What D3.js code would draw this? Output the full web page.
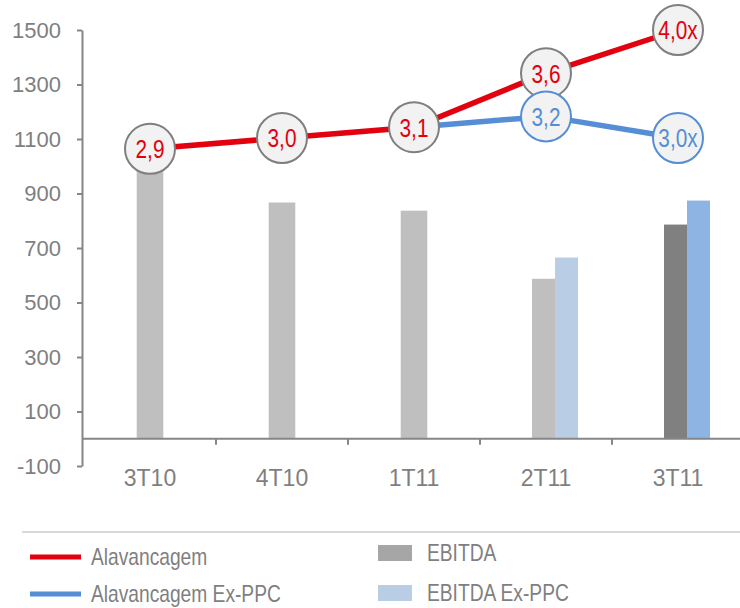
<!DOCTYPE html>
<html>
<head>
<meta charset="utf-8">
<script src="https://cdn.jsdelivr.net/npm/d3@7"></script>
<style>
  body { margin: 0; background: #fff; }
  svg { display: block; }
  text { font-family: "Liberation Sans", Arial, sans-serif; }
</style>
</head>
<body>
<div id="canvas"></div>
<script>
// data
const categories = ['3T10', '4T10', '1T11', '2T11', '3T11']
const ebitda = [1010, 867, 837, 587, 786]
const ebitdaExPPC = [null, null, null, 665, 874]
const alavancagem = [2.9, 3.0, 3.1, 3.6, 4.0]
const alavancagemExPPC = [null, null, 3.1, 3.2, 3.0]
const yTicks = [-100, 100, 300, 500, 700, 900, 1100, 1300, 1500]
const ebitdaColors = ['#BFBFBF', '#BFBFBF', '#BFBFBF', '#BFBFBF', '#808080']
const exPPCColors = [null, null, null, '#B9CDE5', '#8EB4E3']
const legendLines = ['Alavancagem', 'Alavancagem Ex-PPC']
const legendBars = ['EBITDA', 'EBITDA Ex-PPC']

const width = 740
const height = 608
const red = '#E3000F'
const blue = '#558ED5'
const axisGrey = '#868686'
const textGrey = '#7F7F7F'
const narrow = 0.8 // no narrow font installed, so squeeze the regular one

let svg = d3.select('#canvas').append('svg')
  .attr('width', width)
  .attr('height', height)

const x = d3.scaleBand().domain(categories).range([84, 744])
const y = d3.scaleLinear().domain([-100, 1500]).range([466, 30])
// secondary (hidden) scale for the leverage lines
const yR = d3.scaleLinear().domain([0, 4]).range([462, 30])
const xSub = d3.scaleBand().domain(['ebitda', 'ex']).range([-14, 32])
const cx = c => x(c) + x.bandwidth() / 2

// bars
let bars = []
categories.forEach((c, i) => {
  if (ebitdaExPPC[i] == null) {
    bars.push({ x: cx(c) - 13.3, w: 26.6, v: ebitda[i], color: ebitdaColors[i] })
  } else {
    bars.push({ x: cx(c) + xSub('ebitda'), w: xSub.bandwidth(), v: ebitda[i], color: ebitdaColors[i] })
    bars.push({ x: cx(c) + xSub('ex'), w: xSub.bandwidth(), v: ebitdaExPPC[i], color: exPPCColors[i] })
  }
})
svg.append('g').selectAll('rect').data(bars).join('rect')
  .attr('x', d => d.x)
  .attr('width', d => d.w)
  .attr('y', d => y(d.v))
  .attr('height', d => y(0) - y(d.v))
  .attr('fill', d => d.color)

// y axis
const yAxis = svg.append('g')
  .attr('transform', 'translate(82,0)')
  .call(d3.axisLeft(y).tickValues(yTicks).tickFormat(d => String(d))
    .tickSize(5).tickSizeOuter(0).tickPadding(16))
yAxis.select('.domain').attr('stroke', axisGrey).attr('stroke-width', 2)
yAxis.selectAll('.tick line').attr('stroke', axisGrey).attr('stroke-width', 2)
yAxis.selectAll('.tick text')
  .attr('fill', textGrey)
  .style('font-size', '22px')
  .style('font-family', '"Liberation Sans", Arial, sans-serif')

// x axis on the zero line, ticks between categories
svg.append('line')
  .attr('x1', 82).attr('x2', width)
  .attr('y1', y(0)).attr('y2', y(0))
  .attr('stroke', axisGrey).attr('stroke-width', 2)
svg.append('g').selectAll('line').data(categories.slice(1)).join('line')
  .attr('x1', d => x(d)).attr('x2', d => x(d))
  .attr('y1', y(0)).attr('y2', y(0) + 6)
  .attr('stroke', axisGrey).attr('stroke-width', 2)
svg.append('g').selectAll('text').data(categories).join('text')
  .attr('x', d => cx(d))
  .attr('y', 486)
  .attr('text-anchor', 'middle')
  .attr('fill', textGrey)
  .style('font-size', '23px')
  .text(d => d)

// leverage lines
const line = d3.line()
  .defined(d => d.v != null)
  .x(d => cx(d.c))
  .y(d => yR(d.v))
const redPts = categories.map((c, i) => ({ c: c, v: alavancagem[i], last: i === categories.length - 1 }))
const bluePts = categories.map((c, i) => ({ c: c, v: alavancagemExPPC[i], last: i === categories.length - 1 }))

svg.append('path').datum(redPts)
  .attr('d', line).attr('fill', 'none')
  .attr('stroke', red).attr('stroke-width', 5.5)
svg.append('path').datum(bluePts)
  .attr('d', line).attr('fill', 'none')
  .attr('stroke', blue).attr('stroke-width', 5.5)

const fmt = d => d3.format('.1f')(d.v).replace('.', ',') + (d.last ? 'x' : '')

let drawBubbles = function (pts, stroke, color) {
  const g = svg.append('g').selectAll('g').data(pts).join('g')
    .attr('transform', d => `translate(${cx(d.c)},${yR(d.v)})`)
  g.append('circle')
    .attr('r', 25)
    .attr('fill', '#F2F2F2')
    .attr('stroke', stroke)
    .attr('stroke-width', 2)
  g.append('text')
    .attr('text-anchor', 'middle')
    .attr('dy', '0.36em')
    .attr('transform', `scale(${narrow},1)`)
    .attr('fill', color)
    .style('font-size', '26px')
    .text(fmt)
}
drawBubbles(redPts, '#7F7F7F', red)
// the 1T11 ex-PPC point sits under the red bubble, so no bubble of its own
drawBubbles(bluePts.filter((d, i) => d.v != null && i > 2), blue, blue)

// legend
svg.append('line')
  .attr('x1', 22).attr('x2', width)
  .attr('y1', 532).attr('y2', 532)
  .attr('stroke', '#D9D9D9').attr('stroke-width', 2)

const legLineColors = [red, blue]
const legLineY = [557, 594]
legendLines.forEach((name, i) => {
  svg.append('line')
    .attr('x1', 30).attr('x2', 81)
    .attr('y1', legLineY[i]).attr('y2', legLineY[i])
    .attr('stroke', legLineColors[i]).attr('stroke-width', 5)
  svg.append('text')
    .attr('transform', `translate(91,${legLineY[i] + 8}) scale(${narrow},1)`)
    .attr('fill', textGrey)
    .style('font-size', '24px')
    .text(name)
})

const legBarColors = ['#A6A6A6', '#B9CDE5']
const legBarY = [553, 593]
legendBars.forEach((name, i) => {
  svg.append('rect')
    .attr('x', 378).attr('y', legBarY[i] - 8)
    .attr('width', 34).attr('height', 16)
    .attr('fill', legBarColors[i])
  svg.append('text')
    .attr('transform', `translate(427,${legBarY[i] + 8}) scale(${narrow},1)`)
    .attr('fill', textGrey)
    .style('font-size', '24px')
    .text(name)
})
</script>
</body>
</html>
